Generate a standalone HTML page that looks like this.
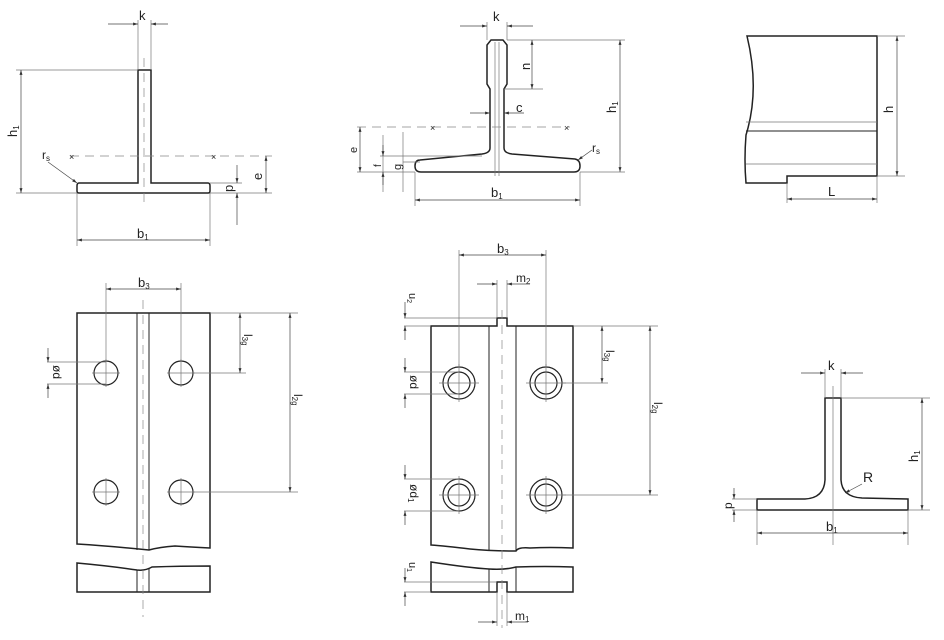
<!DOCTYPE html>
<html><head><meta charset="utf-8"><style>
html,body{margin:0;padding:0;background:#fff;}
svg{display:block;}
text{font-family:"Liberation Sans",sans-serif;fill:#222;}
.o{stroke:#222;stroke-width:1.5;fill:none;}
.t{stroke:#777;stroke-width:0.7;fill:none;}
.d{stroke:#888;stroke-width:0.7;fill:none;stroke-dasharray:9 6;}
.a{stroke:#444;stroke-width:0.7;fill:none;marker-start:url(#ar);marker-end:url(#ar);}
.a1{stroke:#444;stroke-width:0.7;fill:none;marker-end:url(#ar);}
</style></head><body>
<svg width="944" height="640" viewBox="0 0 944 640" xmlns="http://www.w3.org/2000/svg">
<defs><marker id="ar" viewBox="0 0 10 10" refX="10" refY="5" markerWidth="7" markerHeight="7" orient="auto-start-reverse"><path d="M0,2 L10,5 L0,8 z" fill="#333"/></marker></defs>

<!-- TOP LEFT T -->
<path class="o" d="M138,70 H151 V183 H208 Q210,183 210,186 V191 Q210,193 208,193 H79 Q77,193 77,191 V186 Q77,183 79,183 H138 Z"/>
<line class="d" x1="144" y1="58" x2="144" y2="206"/>
<line class="d" x1="70" y1="156" x2="272" y2="156"/>
<text x="69" y="160" font-size="9" fill="#888">×</text><text x="211" y="160" font-size="9" fill="#888">×</text>
<line class="t" x1="138" y1="20" x2="138" y2="70"/><line class="t" x1="151" y1="20" x2="151" y2="70"/>
<line class="a1" x1="108" y1="24" x2="138" y2="24"/><line class="a1" x1="168" y1="24" x2="151" y2="24"/>
<text x="139" y="20" font-size="13">k</text>
<line class="t" x1="16" y1="70" x2="138" y2="70"/><line class="t" x1="16" y1="193" x2="77" y2="193"/>
<line class="a" x1="21" y1="70" x2="21" y2="193"/>
<text x="0" y="0" font-size="13" transform="translate(17,137) rotate(-90)">h<tspan font-size="8" dy="2">1</tspan></text>
<text x="42" y="159" font-size="12">r<tspan font-size="8" dy="2">s</tspan></text><line class="a1" x1="48" y1="162" x2="77" y2="183"/>
<line class="t" x1="210" y1="183" x2="242" y2="183"/><line class="t" x1="210" y1="193" x2="272" y2="193"/>
<line class="a1" x1="237" y1="165" x2="237" y2="183"/><line class="a1" x1="237" y1="225" x2="237" y2="193"/>
<text x="0" y="0" font-size="13" transform="translate(233,192) rotate(-90)">p</text>
<line class="a" x1="266" y1="156" x2="266" y2="193"/>
<text x="0" y="0" font-size="13" transform="translate(262,180) rotate(-90)">e</text>
<line class="t" x1="77" y1="193" x2="77" y2="246"/><line class="t" x1="210" y1="193" x2="210" y2="246"/>
<line class="a" x1="77" y1="240" x2="210" y2="240"/>
<text x="137" y="238" font-size="13">b<tspan font-size="8" dy="2">1</tspan></text>

<!-- TOP MIDDLE -->
<path class="o" d="M491,40 H503 L507,45 V84 L504,89 V148 Q504,153 512,154 L575,159 Q580,160 580,166 Q580,172 574,172 H421 Q415,172 415,166 Q415,160 420,160 L482,154 Q490,153 490,148 V89 L487,84 V45 Z"/>
<line class="t" x1="495" y1="42" x2="495" y2="176"/><line class="t" x1="499" y1="42" x2="499" y2="176"/>
<line class="d" x1="357" y1="127" x2="570" y2="127"/>
<text x="430" y="131" font-size="9" fill="#888">×</text><text x="564" y="131" font-size="9" fill="#888">×</text>
<line class="t" x1="487" y1="22" x2="487" y2="40"/><line class="t" x1="507" y1="22" x2="507" y2="40"/>
<line class="a1" x1="460" y1="26" x2="487" y2="26"/><line class="a1" x1="533" y1="26" x2="507" y2="26"/>
<text x="493" y="21" font-size="13">k</text>
<line class="t" x1="507" y1="40" x2="625" y2="40"/><line class="t" x1="504" y1="89" x2="543" y2="89"/>
<line class="a" x1="532" y1="40" x2="532" y2="89"/>
<text x="0" y="0" font-size="13" transform="translate(530,70) rotate(-90)">n</text>
<line class="a" x1="620" y1="40" x2="620" y2="172"/><line class="t" x1="580" y1="172" x2="625" y2="172"/>
<text x="0" y="0" font-size="13" transform="translate(616,113) rotate(-90)">h<tspan font-size="8" dy="2">1</tspan></text>
<line class="a1" x1="470" y1="113" x2="490" y2="113"/><line class="a1" x1="524" y1="113" x2="504" y2="113"/>
<text x="516" y="112" font-size="13">c</text>
<line class="t" x1="357" y1="172" x2="415" y2="172"/>
<line class="a" x1="360" y1="127" x2="360" y2="172"/>
<text x="0" y="0" font-size="11" transform="translate(357,153) rotate(-90)">e</text>
<line class="t" x1="380" y1="156" x2="482" y2="156"/><line class="t" x1="403" y1="162" x2="420" y2="162"/>
<line class="t" x1="383" y1="135" x2="383" y2="192"/><line class="t" x1="403" y1="132" x2="403" y2="192"/>
<line class="a1" x1="383" y1="145" x2="383" y2="156"/><line class="a1" x1="383" y1="185" x2="383" y2="172"/>
<text x="0" y="0" font-size="10" transform="translate(381,167) rotate(-90)">f</text>
<text x="0" y="0" font-size="11" transform="translate(401,170) rotate(-90)">g</text>
<line class="t" x1="415" y1="172" x2="415" y2="206"/><line class="t" x1="580" y1="172" x2="580" y2="206"/>
<line class="a" x1="415" y1="200" x2="580" y2="200"/>
<text x="491" y="197" font-size="13">b<tspan font-size="8" dy="2">1</tspan></text>
<text x="592" y="152" font-size="12">r<tspan font-size="8" dy="2">s</tspan></text><line class="a1" x1="592" y1="150" x2="578" y2="160"/>

<!-- TOP RIGHT -->
<path class="o" d="M747,36 H877 V176 H787 V183 H746 Q744,160 746,135 Q760,90 747,36 Z"/>
<line class="t" x1="746" y1="122" x2="877" y2="122"/><line class="o" style="stroke-width:1" x1="746" y1="131" x2="877" y2="131"/>
<line class="t" x1="746" y1="164" x2="877" y2="164"/>
<line class="t" x1="877" y1="36" x2="905" y2="36"/><line class="t" x1="877" y1="176" x2="905" y2="176"/>
<line class="a" x1="897" y1="36" x2="897" y2="176"/>
<text x="0" y="0" font-size="13" transform="translate(893,113) rotate(-90)">h</text>
<line class="t" x1="787" y1="183" x2="787" y2="203"/><line class="t" x1="877" y1="176" x2="877" y2="203"/>
<line class="a" x1="787" y1="199" x2="877" y2="199"/>
<text x="828" y="196" font-size="13">L</text>

<!-- BOTTOM LEFT -->
<path class="o" d="M77,313 H210 V548 Q190,547 175,546 Q160,547 149,550 Q110,546 77,544 Z"/>
<path class="o" d="M77,592 V563 Q110,566 137,570 Q145,571 152,567 Q180,566 210,566 V592 Z"/>
<line class="o" style="stroke-width:1" x1="137" y1="313" x2="137" y2="550"/><line class="o" style="stroke-width:1" x1="149" y1="313" x2="149" y2="550"/>
<line class="o" style="stroke-width:1" x1="137" y1="570" x2="137" y2="592"/><line class="o" style="stroke-width:1" x1="149" y1="568" x2="149" y2="592"/>
<line class="d" x1="143" y1="300" x2="143" y2="617"/>
<g class="o" style="stroke-width:1.2"><circle cx="106" cy="373" r="12"/><circle cx="181" cy="373" r="12"/><circle cx="106" cy="492" r="12"/><circle cx="181" cy="492" r="12"/></g>
<g class="t"><path d="M92,373H120M106,359V387M167,373H195M181,359V387M92,492H120M106,478V506M167,492H195M181,478V506"/></g>
<line class="t" x1="106" y1="283" x2="106" y2="361"/><line class="t" x1="181" y1="283" x2="181" y2="361"/>
<line class="a" x1="106" y1="289" x2="181" y2="289"/><text x="138" y="287" font-size="13">b<tspan font-size="8" dy="2">3</tspan></text>
<line class="t" x1="210" y1="313" x2="298" y2="313"/><line class="t" x1="193" y1="373" x2="246" y2="373"/><line class="t" x1="193" y1="492" x2="298" y2="492"/>
<line class="a" x1="240" y1="313" x2="240" y2="373"/><text x="0" y="0" font-size="12" transform="translate(244,334) rotate(90)">l<tspan font-size="8" dy="2">3g</tspan></text>
<line class="a" x1="290" y1="313" x2="290" y2="492"/><text x="0" y="0" font-size="12" transform="translate(294,394) rotate(90)">l<tspan font-size="8" dy="2">2g</tspan></text>
<line class="t" x1="47" y1="362" x2="106" y2="362"/><line class="t" x1="47" y1="384" x2="106" y2="384"/>
<line class="a1" x1="48" y1="348" x2="48" y2="362"/><line class="a1" x1="48" y1="398" x2="48" y2="384"/>
<text x="0" y="0" font-size="12" transform="translate(53,365) rotate(90)">ød</text>

<!-- BOTTOM MIDDLE -->
<path class="o" d="M431,326 H497 V318 H507 V326 H573 V548 Q550,547 530,548 Q518,547 516,551 Q490,551 470,549 Q445,546 431,545 Z"/>
<path class="o" d="M431,592 V562 Q470,568 489,569 Q505,570 516,567 Q545,566 573,567 V592 H507 V582 H497 V592 Z"/>
<line class="o" style="stroke-width:1" x1="489" y1="326" x2="489" y2="551"/><line class="o" style="stroke-width:1" x1="516" y1="326" x2="516" y2="551"/>
<line class="o" style="stroke-width:1" x1="489" y1="569" x2="489" y2="592"/><line class="o" style="stroke-width:1" x1="516" y1="567" x2="516" y2="592"/>
<line class="d" x1="502" y1="310" x2="502" y2="628"/>
<g class="o" style="stroke-width:1.2"><circle cx="459" cy="383" r="16"/><circle cx="459" cy="383" r="11"/><circle cx="546" cy="383" r="16"/><circle cx="546" cy="383" r="11"/><circle cx="459" cy="495" r="16"/><circle cx="459" cy="495" r="11"/><circle cx="546" cy="495" r="16"/><circle cx="546" cy="495" r="11"/></g>
<g class="t"><path d="M439,383H479M459,364V402M526,383H566M546,364V402M439,495H479M459,476V514M526,495H566M546,476V514"/></g>
<line class="t" x1="459" y1="250" x2="459" y2="367"/><line class="t" x1="546" y1="250" x2="546" y2="367"/>
<line class="a" x1="459" y1="255" x2="546" y2="255"/><text x="497" y="253" font-size="13">b<tspan font-size="8" dy="2">3</tspan></text>
<line class="t" x1="497" y1="280" x2="497" y2="318"/><line class="t" x1="507" y1="280" x2="507" y2="318"/>
<line class="a1" x1="477" y1="284" x2="497" y2="284"/><line class="a1" x1="530" y1="284" x2="507" y2="284"/>
<text x="516" y="282" font-size="12">m<tspan font-size="8" dy="2">2</tspan></text>
<line class="t" x1="404" y1="318" x2="497" y2="318"/><line class="t" x1="404" y1="326" x2="431" y2="326"/>
<line class="a1" x1="405" y1="302" x2="405" y2="318"/><line class="a1" x1="405" y1="340" x2="405" y2="326"/>
<text x="0" y="0" font-size="11" transform="translate(409,293) rotate(90)">u<tspan font-size="7" dy="2">2</tspan></text>
<line class="t" x1="573" y1="326" x2="658" y2="326"/><line class="t" x1="562" y1="383" x2="608" y2="383"/><line class="t" x1="562" y1="495" x2="658" y2="495"/>
<line class="a" x1="602" y1="326" x2="602" y2="383"/><text x="0" y="0" font-size="12" transform="translate(606,350) rotate(90)">l<tspan font-size="8" dy="2">3g</tspan></text>
<line class="a" x1="650" y1="326" x2="650" y2="495"/><text x="0" y="0" font-size="12" transform="translate(654,402) rotate(90)">l<tspan font-size="8" dy="2">2g</tspan></text>
<line class="t" x1="404" y1="372" x2="459" y2="372"/><line class="t" x1="404" y1="394" x2="459" y2="394"/>
<line class="a1" x1="405" y1="358" x2="405" y2="372"/><line class="a1" x1="405" y1="408" x2="405" y2="394"/>
<text x="0" y="0" font-size="12" transform="translate(410,375) rotate(90)">ød</text>
<line class="t" x1="404" y1="479" x2="459" y2="479"/><line class="t" x1="404" y1="511" x2="459" y2="511"/>
<line class="a1" x1="405" y1="465" x2="405" y2="479"/><line class="a1" x1="405" y1="525" x2="405" y2="511"/>
<text x="0" y="0" font-size="12" transform="translate(410,484) rotate(90)">ød<tspan font-size="8" dy="2">1</tspan></text>
<line class="t" x1="404" y1="582" x2="497" y2="582"/><line class="t" x1="404" y1="592" x2="431" y2="592"/>
<line class="a1" x1="405" y1="568" x2="405" y2="582"/><line class="a1" x1="405" y1="606" x2="405" y2="592"/>
<text x="0" y="0" font-size="11" transform="translate(409,562) rotate(90)">u<tspan font-size="7" dy="2">1</tspan></text>
<line class="t" x1="497" y1="592" x2="497" y2="626"/><line class="t" x1="507" y1="592" x2="507" y2="626"/>
<line class="a1" x1="478" y1="622" x2="497" y2="622"/><line class="a1" x1="528" y1="622" x2="507" y2="622"/>
<text x="515" y="620" font-size="12">m<tspan font-size="8" dy="2">1</tspan></text>

<!-- BOTTOM RIGHT -->
<path class="o" d="M825,398 H841 V480 Q842,497 862,498 L908,499 V510 H757 V499 H805 Q824,498 825,480 Z"/>
<line class="t" x1="833" y1="386" x2="833" y2="545"/>
<line class="t" x1="825" y1="369" x2="825" y2="398"/><line class="t" x1="841" y1="369" x2="841" y2="398"/>
<line class="a1" x1="801" y1="373" x2="825" y2="373"/><line class="a1" x1="863" y1="373" x2="841" y2="373"/>
<text x="828" y="370" font-size="13">k</text>
<line class="t" x1="841" y1="398" x2="930" y2="398"/><line class="t" x1="908" y1="510" x2="930" y2="510"/>
<line class="a" x1="922" y1="398" x2="922" y2="510"/>
<text x="0" y="0" font-size="13" transform="translate(918,462) rotate(-90)">h<tspan font-size="8" dy="2">1</tspan></text>
<text x="863" y="482" font-size="14">R</text><line class="a1" x1="862" y1="484" x2="845" y2="493"/>
<line class="t" x1="732" y1="499" x2="757" y2="499"/><line class="t" x1="732" y1="510" x2="757" y2="510"/>
<line class="a1" x1="734" y1="488" x2="734" y2="499"/><line class="a1" x1="734" y1="522" x2="734" y2="510"/>
<text x="0" y="0" font-size="12" transform="translate(732,509) rotate(-90)">p</text>
<line class="t" x1="757" y1="510" x2="757" y2="545"/><line class="t" x1="908" y1="510" x2="908" y2="545"/>
<line class="a" x1="757" y1="533" x2="908" y2="533"/>
<text x="826" y="531" font-size="13">b<tspan font-size="8" dy="2">1</tspan></text>
</svg>
</body></html>
